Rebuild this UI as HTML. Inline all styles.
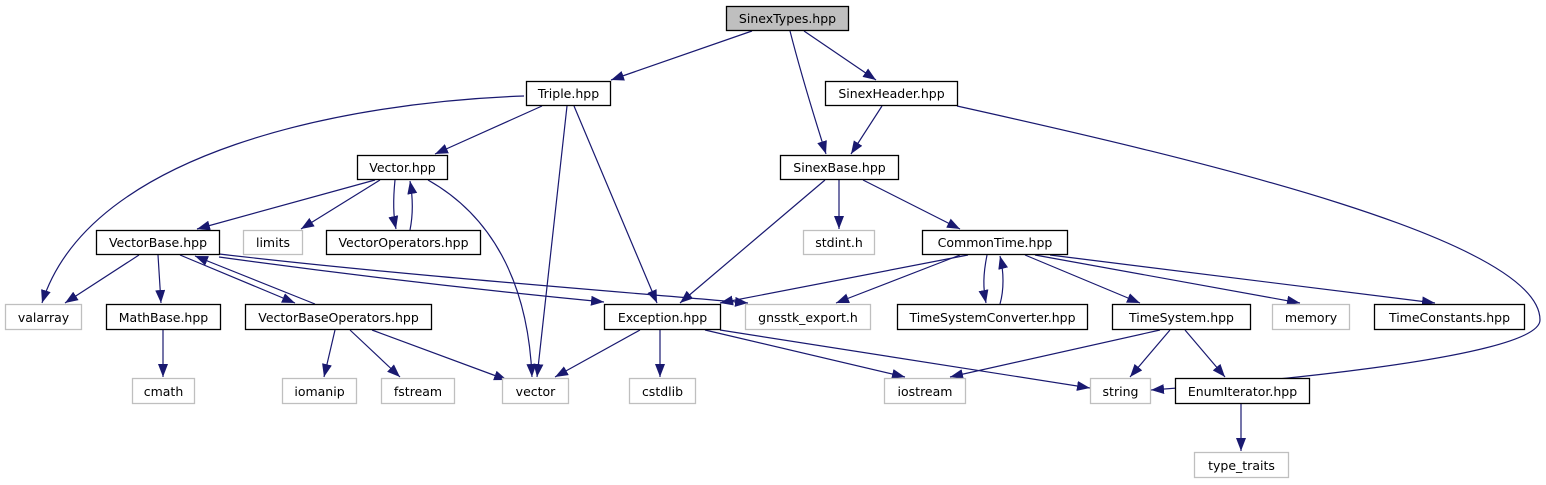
<!DOCTYPE html>
<html><head><meta charset="utf-8"><style>
html,body{margin:0;padding:0;background:#fff;}
svg{display:block;}
text{font-family:"DejaVu Sans","Liberation Sans",sans-serif;font-size:12.5px;fill:#000;}
</style></head><body>
<svg width="1546" height="485" viewBox="0 0 1546 485" xmlns="http://www.w3.org/2000/svg">
<defs>
<marker id="a" markerUnits="userSpaceOnUse" markerWidth="14" markerHeight="12" refX="13" refY="5" orient="auto">
<path d="M0,0 L13,5 L0,10 Z" fill="#191970"/>
</marker>
</defs>
<g fill="none" stroke="#191970" stroke-width="1.2" marker-end="url(#a)">
<path d="M752,31 L611,80"/>
<path d="M790,31 C800,70 812,110 826,154"/>
<path d="M804,31 L876,80"/>
<path d="M882,106 L851,154"/>
<path d="M957,106 C1200,160 1540,240 1540,320 C1540,360 1220,385 1151,390"/>
<path d="M524,96 C350,102 90,150 42,303"/>
<path d="M542,106 L435,154"/>
<path d="M567,106 L537,377"/>
<path d="M574,106 L657,303"/>
<path d="M375,180 L197,229"/>
<path d="M380,180 L301,229"/>
<path d="M395,180 C393,200 393,215 396,229"/>
<path d="M410,230 C413,215 413,198 410,181"/>
<path d="M428,180 C490,215 528,280 532,377"/>
<path d="M139,255 L65,303"/>
<path d="M158,255 L161,303"/>
<path d="M180,255 L295,303"/>
<path d="M315,304 L195,256"/>
<path d="M219,254 C400,275 600,290 748,303"/>
<path d="M219,257 C350,275 480,290 604,302"/>
<path d="M163,330 L163,377"/>
<path d="M335,330 L324,377"/>
<path d="M350,330 L400,377"/>
<path d="M372,330 L507,380"/>
<path d="M825,180 L680,303"/>
<path d="M839,180 L839,229"/>
<path d="M863,180 L960,229"/>
<path d="M968,255 L720,303"/>
<path d="M960,255 L836,303"/>
<path d="M987,255 C983,275 983,288 986,303"/>
<path d="M1000,304 C1004,290 1004,272 1000,256"/>
<path d="M1025,255 L1140,303"/>
<path d="M1035,255 L1300,303"/>
<path d="M1050,255 L1435,303"/>
<path d="M640,330 L555,377"/>
<path d="M660,330 L660,377"/>
<path d="M705,330 L905,377"/>
<path d="M720,330 L1090,388"/>
<path d="M1160,330 L950,377"/>
<path d="M1170,330 L1130,377"/>
<path d="M1185,330 L1225,377"/>
<path d="M1241,404 L1241,451"/>
</g>
<g stroke-width="1.3" text-anchor="middle">
<rect x="726.5" y="6.5" width="122" height="24" fill="#bfbfbf" stroke="#000"/><text x="787.5" y="23">SinexTypes.hpp</text>
<rect x="526.5" y="81.5" width="84" height="24" fill="#fff" stroke="#000"/><text x="568.5" y="98">Triple.hpp</text>
<rect x="825.5" y="81.5" width="132" height="24" fill="#fff" stroke="#000"/><text x="891.5" y="98">SinexHeader.hpp</text>
<rect x="780.5" y="155.5" width="118" height="24" fill="#fff" stroke="#000"/><text x="839.5" y="172">SinexBase.hpp</text>
<rect x="357.5" y="155.5" width="90" height="24" fill="#fff" stroke="#000"/><text x="402.5" y="172">Vector.hpp</text>
<rect x="96.5" y="230.5" width="123" height="24" fill="#fff" stroke="#000"/><text x="158" y="247">VectorBase.hpp</text>
<rect x="243.5" y="230.5" width="59" height="24" fill="#fff" stroke="#bfbfbf"/><text x="273" y="247">limits</text>
<rect x="326.5" y="230.5" width="154" height="24" fill="#fff" stroke="#000"/><text x="403.5" y="247">VectorOperators.hpp</text>
<rect x="803.5" y="230.5" width="71" height="24" fill="#fff" stroke="#bfbfbf"/><text x="839" y="247">stdint.h</text>
<rect x="922.5" y="230.5" width="145" height="24" fill="#fff" stroke="#000"/><text x="995" y="247">CommonTime.hpp</text>
<rect x="5.5" y="304.5" width="76" height="25" fill="#fff" stroke="#bfbfbf"/><text x="43.5" y="322">valarray</text>
<rect x="106.5" y="304.5" width="114" height="25" fill="#fff" stroke="#000"/><text x="163.5" y="322">MathBase.hpp</text>
<rect x="245.5" y="304.5" width="186" height="25" fill="#fff" stroke="#000"/><text x="338.5" y="322">VectorBaseOperators.hpp</text>
<rect x="604.5" y="304.5" width="116" height="25" fill="#fff" stroke="#000"/><text x="662.5" y="322">Exception.hpp</text>
<rect x="745.5" y="304.5" width="125" height="25" fill="#fff" stroke="#bfbfbf"/><text x="808" y="322">gnsstk_export.h</text>
<rect x="897.5" y="304.5" width="190" height="25" fill="#fff" stroke="#000"/><text x="992.5" y="322">TimeSystemConverter.hpp</text>
<rect x="1112.5" y="304.5" width="138" height="25" fill="#fff" stroke="#000"/><text x="1181.5" y="322">TimeSystem.hpp</text>
<rect x="1272.5" y="304.5" width="77" height="25" fill="#fff" stroke="#bfbfbf"/><text x="1311" y="322">memory</text>
<rect x="1374.5" y="304.5" width="150" height="25" fill="#fff" stroke="#000"/><text x="1449.5" y="322">TimeConstants.hpp</text>
<rect x="132.5" y="378.5" width="62" height="25" fill="#fff" stroke="#bfbfbf"/><text x="163.5" y="396">cmath</text>
<rect x="282.5" y="378.5" width="74" height="25" fill="#fff" stroke="#bfbfbf"/><text x="319.5" y="396">iomanip</text>
<rect x="381.5" y="378.5" width="73" height="25" fill="#fff" stroke="#bfbfbf"/><text x="418" y="396">fstream</text>
<rect x="502.5" y="378.5" width="66" height="25" fill="#fff" stroke="#bfbfbf"/><text x="535.5" y="396">vector</text>
<rect x="629.5" y="378.5" width="66" height="25" fill="#fff" stroke="#bfbfbf"/><text x="662.5" y="396">cstdlib</text>
<rect x="884.5" y="378.5" width="81" height="25" fill="#fff" stroke="#bfbfbf"/><text x="925" y="396">iostream</text>
<rect x="1090.5" y="378.5" width="60" height="25" fill="#fff" stroke="#bfbfbf"/><text x="1120.5" y="396">string</text>
<rect x="1175.5" y="378.5" width="134" height="25" fill="#fff" stroke="#000"/><text x="1242.5" y="396">EnumIterator.hpp</text>
<rect x="1194.5" y="452.5" width="94" height="25" fill="#fff" stroke="#bfbfbf"/><text x="1241.5" y="470">type_traits</text>
</g>
</svg>
</body></html>
